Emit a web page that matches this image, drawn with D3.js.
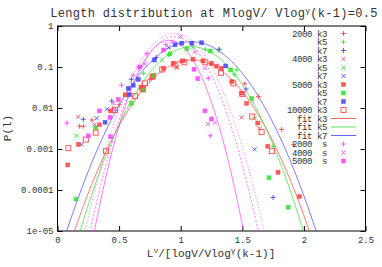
<!DOCTYPE html>
<html>
<head>
<meta charset="utf-8">
<script src="https://cdn.jsdelivr.net/npm/d3@7"></script>
<style>
  body { margin: 0; background: #fff; }
  text { font-family: "Liberation Mono", "DejaVu Sans Mono", monospace; fill: #333; white-space: pre; }
</style>
</head>
<body>
<svg id="chart" width="382" height="267"></svg>
<script>
// --- data: [x, P(l)] ---
const s2000k3 = [[0.18, 0.0036], [0.21, 0.0036], [0.28, 0.0051], [0.5, 0.012], [0.75, 0.05], [1.0, 0.14], [1.25, 0.12], [1.52, 0.039], [1.63, 0.019], [1.82, 0.003], [1.914, 0.0013]]
const s2000k5 = [[0.45, 0.010], [0.7, 0.07], [0.9, 0.2], [1.2, 0.27], [1.305, 0.26], [1.435, 0.066], [1.455, 0.085], [1.75, 0.00115]]
const s2000k7 = [[0.21, 0.0053], [0.44, 0.0148], [0.6, 0.05], [0.8, 0.17], [1.313, 0.27], [1.53, 0.029], [1.75, 0.000066]]
const s4000k3 = [[0.169, 0.0061], [0.69, 0.028], [0.70, 0.033], [0.967, 0.10], [0.97, 0.096], [1.495, 0.0059], [1.64, 0.0032]]
const s4000k5 = [[0.156, 0.0021], [0.55, 0.02], [0.85, 0.15], [1.1, 0.3], [1.60, 0.0056]]
const s4000k7 = [[0.196, 0.0013], [0.318, 0.0056], [0.40, 0.0093], [0.9, 0.3], [1.6, 0.00098]]
const s5000k3 = [[0.083, 0.00041], [0.17, 0.0013], [0.34, 0.0039], [0.43, 0.0085], [0.55, 0.021], [0.678, 0.032], [0.773, 0.058], [0.86, 0.093], [0.94, 0.123], [1.02, 0.141], [1.10, 0.155], [1.18, 0.141], [1.25, 0.123], [1.29, 0.105], [1.33, 0.093], [1.414, 0.044], [1.495, 0.023], [1.535, 0.013], [1.625, 0.0043], [1.706, 0.00117], [1.79, 0.00027], [1.963, 0.000069]]
const s5000k5 = [[0.15, 0.00006], [0.31, 0.0033], [0.60, 0.013], [0.697, 0.027], [0.778, 0.063], [0.913, 0.21], [1.05, 0.28], [1.24, 0.245], [1.405, 0.085], [1.576, 0.017], [1.717, 0.0002], [1.873, 0.000038]]
const s5000k7 = [[0.386, 0.0045], [0.575, 0.030], [0.583, 0.021], [0.615, 0.036], [0.656, 0.05], [0.786, 0.148], [0.954, 0.35], [1.008, 0.38], [1.09, 0.38], [1.17, 0.39], [1.365, 0.106]]
const s10000k3 = [[0.088, 0.00105], [0.23, 0.0017], [0.31, 0.0025], [0.394, 0.00089], [0.467, 0.0089], [0.63, 0.0195], [0.69, 0.030], [0.71, 0.04], [0.773, 0.058], [0.85, 0.087], [0.95, 0.115], [1.03, 0.13], [1.20, 0.13], [1.327, 0.072], [1.427, 0.04], [1.50, 0.022], [1.58, 0.0062], [1.657, 0.0026], [1.74, 0.00089]]
const s2000s = [[0.075, 0.0043], [0.467, 0.0089], [0.52, 0.036], [0.615, 0.063], [0.656, 0.10], [0.724, 0.21], [0.88, 0.35], [1.224, 0.053], [1.24, 0.0021]]
const s4000s = [[0.3, 0.004], [0.453, 0.013], [0.71, 0.12], [0.927, 0.41], [1.0, 0.55], [1.116, 0.235], [1.197, 0.093], [1.22, 0.0041], [1.28, 0.0044]]
const s5000s = [[0.25, 0.0021], [0.34, 0.0085], [0.426, 0.0059], [0.43, 0.002], [0.494, 0.016], [0.67, 0.10], [0.86, 0.26], [1.108, 0.088], [1.138, 0.052], [1.197, 0.0085], [1.25, 0.0054]]

// gaussian fits in log10 space: [log10 peak, curvature, centre]
const fitK3 = [-0.83, 4.59, 1.091]
const fitK5 = [-0.505, 5.48, 1.089]
const fitK7 = [-0.383, 4.51, 1.087]
const fitS2000 = [-0.35, 12.7, 0.905]
const fitS4000 = [-0.26, 10.2, 0.947]
const fitS5000 = [-0.18, 9.13, 0.95]

const xTicks = [0, 0.5, 1, 1.5, 2, 2.5]
const xTickLabels = ["0", "0.5", "1", "1.5", "2", "2.5"]
const yTicks = [1e-5, 1e-4, 1e-3, 1e-2, 0.1, 1]
const yTickLabels = ["1e-05", "0.0001", "0.001", "0.01", "0.1", "1"]

const red = "#ff4040", green = "#30e030", blue = "#4040ff", mag = "#ff40ff"

const svg = d3.select("#chart")
const x = d3.scaleLinear().domain([0, 2.5]).range([57.5, 365.5])
const y = d3.scaleLog().domain([1e-5, 1]).range([231, 26])

// axes, ticks point inward like gnuplot
svg.append("g").attr("transform", "translate(0,231)")
  .call(d3.axisBottom(x).tickValues(xTicks).tickFormat((d, i) => xTickLabels[i]).tickSize(-5).tickPadding(6))
svg.append("g").attr("transform", "translate(0,26)")
  .call(d3.axisTop(x).tickValues(xTicks).tickFormat("").tickSize(-5))
svg.append("g").attr("transform", "translate(57.5,0)")
  .call(d3.axisLeft(y).tickValues(yTicks).tickFormat((d, i) => yTickLabels[i]).tickSize(-5).tickPadding(4))
svg.append("g").attr("transform", "translate(365.5,0)")
  .call(d3.axisRight(y).tickValues(yTicks).tickFormat("").tickSize(-5))
svg.selectAll(".domain").remove()
svg.selectAll(".tick line").attr("stroke", "#000")
svg.selectAll(".tick text").attr("font-size", 9).attr("fill", "#333")

svg.append("rect").attr("x", 57.5).attr("y", 26).attr("width", 308).attr("height", 205)
  .attr("fill", "none").attr("stroke", "#000")

const plot = svg.append("g")
plot.append("clipPath").attr("id", "clip").append("rect")
  .attr("x", 57.5).attr("y", 26).attr("width", 308).attr("height", 205)

// fit curves
const fits = [
  [fitK3, red, null], [fitK5, green, null], [fitK7, blue, null],
  [fitS2000, mag, null], [fitS4000, mag, "2,2"], [fitS5000, mag, "1,2"]
]
const line = d3.line().x(d => x(d[0])).y(d => y(d[1]))
fits.forEach(f => {
  const p = f[0]
  const pts = d3.range(0, 2.5001, 0.005).map(v => [v, Math.pow(10, p[0] - p[1] * (v - p[2]) * (v - p[2]))])
    .filter(d => d[1] > 3e-6)
  plot.append("path").datum(pts).attr("d", line).attr("clip-path", "url(#clip)")
    .attr("fill", "none").attr("stroke", f[1]).attr("stroke-width", 0.9).attr("stroke-opacity", 0.8)
    .attr("stroke-dasharray", f[2])
})

function mark(g, type, color, cx, cy) {
  if (type == "plus") {
    g.append("path").attr("d", `M${cx - 2.5},${cy}h5M${cx},${cy - 2.5}v5`).attr("stroke", color).attr("fill", "none").attr("stroke-opacity", 0.85)
  } else if (type == "cross") {
    g.append("path").attr("d", `M${cx - 2},${cy - 2}l4,4M${cx - 2},${cy + 2}l4,-4`).attr("stroke", color).attr("fill", "none").attr("stroke-opacity", 0.85)
  } else if (type == "fsq") {
    g.append("rect").attr("x", cx - 2).attr("y", cy - 2).attr("width", 4).attr("height", 4)
      .attr("fill", color).attr("stroke", color).attr("stroke-width", 0.7).attr("fill-opacity", 0.85).attr("stroke-opacity", 0.6)
  } else {
    g.append("rect").attr("x", cx - 2.5).attr("y", cy - 2.5).attr("width", 5).attr("height", 5)
      .attr("fill", "none").attr("stroke", color).attr("stroke-opacity", 0.85)
  }
}

const series = [
  ["2000 k3", s2000k3, "plus", red],
  ["k5", s2000k5, "plus", green],
  ["k7", s2000k7, "plus", blue],
  ["4000 k3", s4000k3, "cross", red],
  ["k5", s4000k5, "cross", green],
  ["k7", s4000k7, "cross", blue],
  ["5000 k3", s5000k3, "fsq", red],
  ["k5", s5000k5, "fsq", green],
  ["k7", s5000k7, "fsq", blue],
  ["10000 k3", s10000k3, "osq", red],
  ["fit k3", null, "line", red],
  ["fit k5", null, "line", green],
  ["fit k7", null, "line", blue],
  ["2000  s", s2000s, "plus", mag],
  ["4000  s", s4000s, "cross", mag],
  ["5000  s", s5000s, "fsq", mag]
]

series.forEach(s => {
  if (!s[1]) return
  const g = plot.append("g")
  s[1].forEach(d => mark(g, s[2], s[3], x(d[0]), y(d[1])))
})

// key
const key = svg.append("g")
series.forEach((s, i) => {
  const ky = 33.5 + i * 8.5
  key.append("text").attr("x", 327).attr("y", ky + 3).attr("text-anchor", "end")
    .attr("font-size", 9).attr("letter-spacing", -0.4).text(s[0])
  if (s[2] == "line") {
    key.append("line").attr("x1", 331).attr("x2", 356).attr("y1", ky).attr("y2", ky)
      .attr("stroke", s[3]).attr("stroke-opacity", 0.8)
  } else {
    mark(key, s[2], s[3], 343.5, ky)
  }
})

// title and axis labels
const title = svg.append("text").attr("x", 214).attr("y", 17).attr("text-anchor", "middle")
  .attr("font-size", 12).attr("letter-spacing", 0.3)
title.append("tspan").text("Length distribution at MlogV/ Vlog")
title.append("tspan").attr("dy", -4).attr("font-size", 8).text("γ")
title.append("tspan").attr("dy", 4).text("(k-1)=0.5")

const xl = svg.append("text").attr("x", 211).attr("y", 257).attr("text-anchor", "middle").attr("font-size", 11)
xl.append("tspan").text("L")
xl.append("tspan").attr("dy", -4).attr("font-size", 8).text("ν")
xl.append("tspan").attr("dy", 4).text("/[logV/Vlog")
xl.append("tspan").attr("dy", -4).attr("font-size", 8).text("γ")
xl.append("tspan").attr("dy", 4).text("(k-1)]")

svg.append("text").attr("transform", "translate(11,128) rotate(-90)").attr("text-anchor", "middle")
  .attr("font-size", 11).text("P(l)")
</script>
</body>
</html>
